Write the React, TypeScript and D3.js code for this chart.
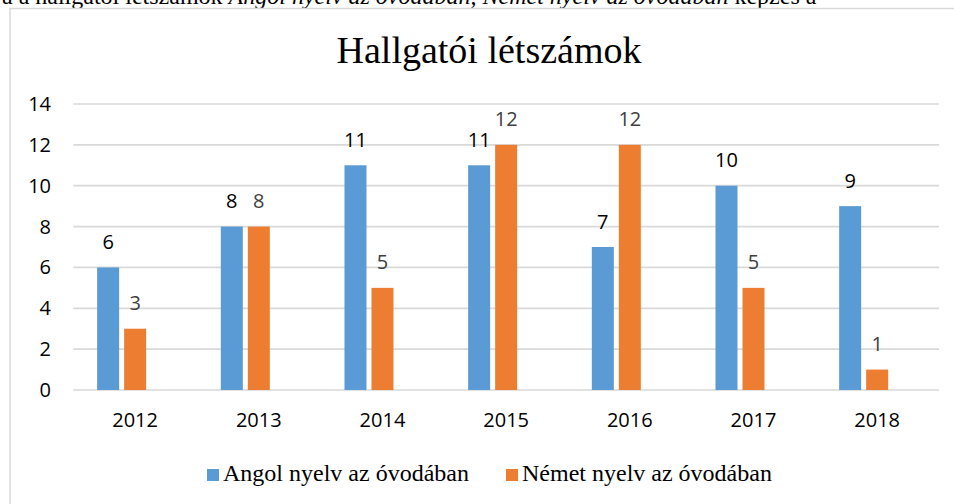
import { useEffect, useRef } from 'react';
import * as d3 from 'd3';

const years = ['2012', '2013', '2014', '2015', '2016', '2017', '2018'];
const seriesNames = ['Angol nyelv az óvodában', 'Német nyelv az óvodában'];
const angolValues = [6, 8, 11, 11, 7, 10, 9];
const nemetValues = [3, 8, 5, 12, 12, 5, 1];
const yTicks = [0, 2, 4, 6, 8, 10, 12, 14];
const chartTitle = 'Hallgatói létszámok';

const colors = ['#5B9BD5', '#ED7D31'];
const labelColors = ['#000000', '#404040'];

export default function App() {
  const svgRef = useRef<SVGSVGElement>(null);
  const width = 954;
  const height = 504;

  useEffect(() => {
    if (!svgRef.current) return;
    const svg = d3.select(svgRef.current);
    svg.selectAll('*').remove();

    const left = 73.3;
    const right = 939;
    const top = 104;
    const bottom = 390;

    // document text line, mostly cut off above the chart
    const doc = svg.append('text')
      .attr('x', -6)
      .attr('y', 3.5)
      .style('font-family', '"Liberation Serif", serif')
      .style('font-size', '24px')
      .style('fill', '#000');
    doc.append('tspan').text('ra a hallgatói létszámok ');
    doc.append('tspan').style('font-style', 'italic').text('Angol nyelv az óvodában');
    doc.append('tspan').text(', ');
    doc.append('tspan').style('font-style', 'italic').text('Német nyelv az óvodában');
    doc.append('tspan').text(' képzés a');

    // chart frame
    svg.append('rect')
      .attr('x', 10)
      .attr('y', 8.5)
      .attr('width', 1200)
      .attr('height', 800)
      .attr('fill', '#fff')
      .attr('stroke', '#d9d9d9')
      .attr('stroke-width', 1.5);

    svg.append('text')
      .attr('x', 489)
      .attr('y', 63)
      .attr('text-anchor', 'middle')
      .style('font-family', '"Liberation Serif", serif')
      .style('font-size', '38px')
      .style('fill', '#000')
      .text(chartTitle);

    const xScale = d3.scaleBand<string>().domain(years).range([left, right]).padding(0);
    const yScale = d3.scaleLinear().domain([0, 14]).range([bottom, top]);

    // three slots per group (third one empty, as in the source chart)
    const groupWidth = 76;
    const sub = d3.scaleBand<number>().domain([0, 1, 2]).range([0, groupWidth]).paddingInner(5 / 27);
    const groupStart = (yr: string) => (xScale(yr) || 0) + (xScale.bandwidth() - groupWidth) / 2;

    const g = svg.append('g');

    g.selectAll('.grid')
      .data(yTicks)
      .join('line')
      .attr('x1', left)
      .attr('x2', right)
      .attr('y1', d => yScale(d))
      .attr('y2', d => yScale(d))
      .attr('stroke', '#d9d9d9')
      .attr('stroke-width', 1.7);

    g.selectAll('.ytick')
      .data(yTicks)
      .join('text')
      .attr('x', 51)
      .attr('y', d => yScale(d))
      .attr('dy', '0.35em')
      .attr('text-anchor', 'end')
      .style('font-family', '"Open Sans", sans-serif')
      .style('font-size', '20px')
      .style('fill', '#000')
      .text(d => d);

    g.selectAll('.xtick')
      .data(years)
      .join('text')
      .attr('x', d => (xScale(d) || 0) + xScale.bandwidth() / 2)
      .attr('y', 427)
      .attr('text-anchor', 'middle')
      .style('font-family', '"Open Sans", sans-serif')
      .style('font-size', '20px')
      .style('fill', '#000')
      .text(d => d);

    const series = [angolValues, nemetValues];
    series.forEach((vals, si) => {
      const data = years.map((yr, i) => ({ yr, v: vals[i] }));
      g.selectAll(`.bar-${si}`)
        .data(data)
        .join('rect')
        .attr('x', d => groupStart(d.yr) + (sub(si) || 0))
        .attr('y', d => yScale(d.v))
        .attr('width', sub.bandwidth())
        .attr('height', d => bottom - yScale(d.v))
        .attr('fill', colors[si]);

      g.selectAll(`.lbl-${si}`)
        .data(data)
        .join('text')
        .attr('x', d => groupStart(d.yr) + (sub(si) || 0) + sub.bandwidth() / 2)
        .attr('y', d => yScale(d.v) - 18.5)
        .attr('text-anchor', 'middle')
        .style('font-family', '"Open Sans", sans-serif')
        .style('font-size', '20px')
        .style('fill', labelColors[si])
        .text(d => d.v);
    });

    // legend
    const legendX = [207, 506];
    seriesNames.forEach((name, i) => {
      svg.append('rect')
        .attr('x', legendX[i])
        .attr('y', 469)
        .attr('width', 12)
        .attr('height', 12)
        .attr('fill', colors[i]);
      svg.append('text')
        .attr('x', legendX[i] + 16)
        .attr('y', 481)
        .style('font-family', '"Liberation Serif", serif')
        .style('font-size', '24px')
        .style('fill', '#000')
        .text(name);
    });
  }, []);

  return (
    <div style={{ position: 'fixed', left: 0, top: 0, width, height, background: '#fff' }}>
      <svg ref={svgRef} width={width} height={height} style={{ display: 'block' }} />
    </div>
  );
}
